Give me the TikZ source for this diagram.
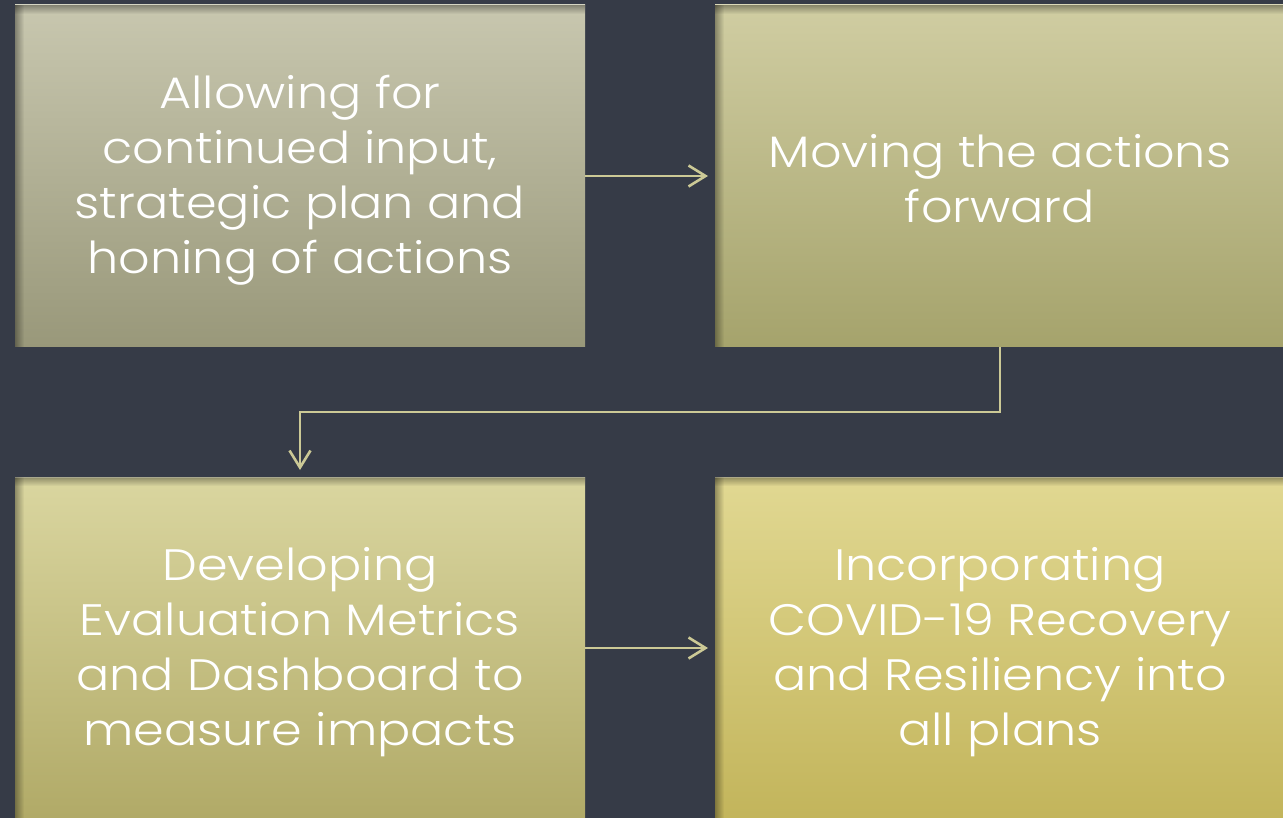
\documentclass[tikz,border=0pt]{standalone}
\usepackage{fontspec}
\setmainfont{Poppins}[UprightFont=* Light, FakeStretch=1.12]
\usetikzlibrary{arrows.meta,fadings}
\definecolor{bg}{RGB}{54,59,71}
\definecolor{linec}{RGB}{204,201,150}
\definecolor{aT}{RGB}{200,199,175}\definecolor{aB}{RGB}{153,152,122}
\definecolor{bT}{RGB}{208,205,162}\definecolor{bB}{RGB}{165,163,108}
\definecolor{cT}{RGB}{218,214,160}\definecolor{cB}{RGB}{176,169,102}
\definecolor{dT}{RGB}{225,216,146}\definecolor{dB}{RGB}{194,180,90}
\tikzset{
  boxtext/.style={text=white, font=\fontsize{44}{55}\selectfont, align=center},
  conn/.style={draw=linec, line width=2.6pt, -{Straight Barb[length=17pt,width=21pt,line width=2.6pt]}},
}
\newcommand{\gbox}[6]{% x1 y1 x2 y2 top bottom
  \shade[top color=#5, bottom color=#6] (#1,#2) rectangle (#3,#4);
  \fill[black, opacity=0.35, path fading=east] (#1,#2) rectangle ({#1+9},#4);
  \fill[black, opacity=0.35, path fading=south] (#1,#2) rectangle (#3,{#2+9});
  \draw[white, opacity=0.25, line width=1pt] (#1,#2) -- (#3,#2);
}
\begin{document}
\begin{tikzpicture}[x=1pt,y=-1pt]
\fill[bg] (0,0) rectangle (1283,818);
\useasboundingbox (0,0) rectangle (1283,818);
\gbox{15}{5}{585}{347}{aT}{aB}
\gbox{715}{5}{1290}{347}{bT}{bB}
\gbox{15}{477}{585}{825}{cT}{cB}
\gbox{715}{477}{1290}{825}{dT}{dB}
\node[boxtext] (a) at (300,180) {Allowing for\\continued input,\\strategic plan and\\honing of actions};
\node[boxtext] (b) at (1000,179) {Moving the actions\\forward};
\node[boxtext] (c) at (300,652) {Developing\\Evaluation Metrics\\and Dashboard to\\measure impacts};
\node[boxtext] (d) at (1000,652) {Incorporating\\COVID-19 Recovery\\and Resiliency into\\all plans};
\coordinate (aR) at (585,176);
\coordinate (bL) at (708,176);
\coordinate (bB) at (1000,347);
\coordinate (cT) at (300,470);
\coordinate (cR) at (585,648);
\coordinate (dL) at (708,648);
\draw[conn] (aR) -- (bL);
\draw[conn] (bB) -- ++(0,65) -| (cT);
\draw[conn] (cR) -- (dL);
\end{tikzpicture}
\end{document}
